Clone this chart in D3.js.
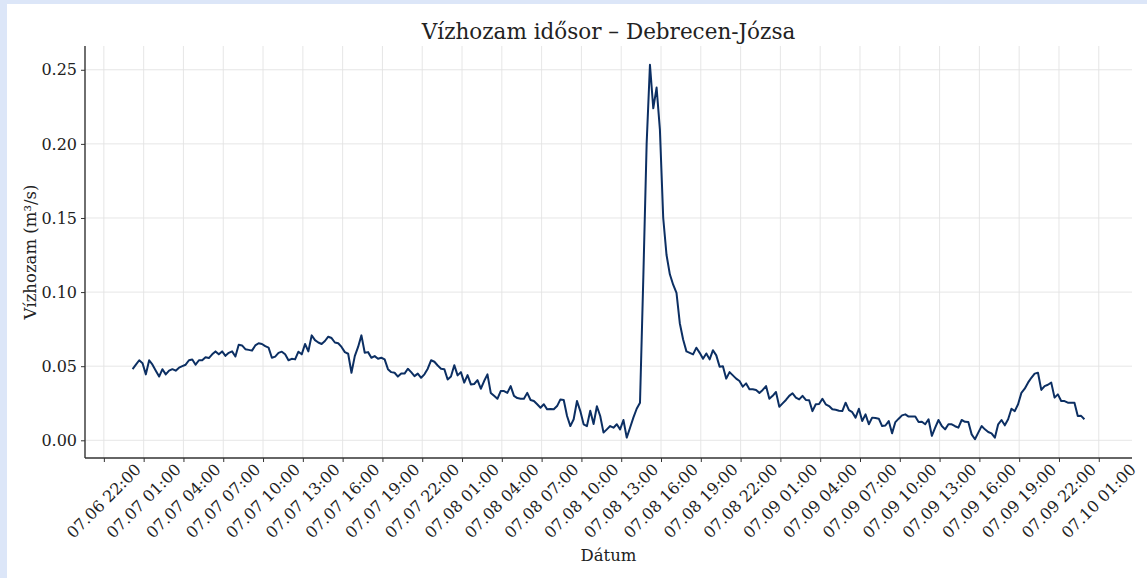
<!DOCTYPE html>
<html lang="hu">

<head>
    <meta charset="UTF-8">
    <title>Vízhozam idősor – Debrecen-Józsa</title>
    <script src="https://cdn.jsdelivr.net/npm/d3@7"></script>
    <style>
        body { margin: 0; background: #dce6f8; }
        svg text { font-family: "DejaVu Serif", serif; fill: #222; }
    </style>
</head>

<body>
    <svg width="1147" height="578"></svg>

    <script>
        // 15-minute readings starting at 07.07 00:10
        const startTime = new Date(Date.UTC(2025, 6, 7, 0, 10));
        const stepMinutes = 15;
        const flow = [
            0.048, 0.051, 0.054, 0.052, 0.0445, 0.054, 0.051, 0.047, 0.043, 0.048,
            0.0445, 0.047, 0.048, 0.047, 0.049, 0.050, 0.051, 0.054, 0.0545, 0.051,
            0.054, 0.054, 0.056, 0.0555, 0.058, 0.060, 0.058, 0.060, 0.057, 0.059,
            0.060, 0.0565, 0.0645, 0.064, 0.0615, 0.061, 0.0605, 0.064, 0.0655, 0.065,
            0.0635, 0.0625, 0.0557, 0.0565, 0.059, 0.0598, 0.058, 0.054, 0.055, 0.0546,
            0.0598, 0.058, 0.065, 0.060, 0.0708, 0.0676, 0.066, 0.065, 0.067, 0.0699,
            0.069, 0.066, 0.0655, 0.063, 0.0595, 0.0584, 0.0456, 0.0568, 0.063, 0.0708,
            0.0591, 0.0595, 0.0557, 0.0568, 0.055, 0.0557, 0.0546, 0.048, 0.046, 0.0456,
            0.043, 0.045, 0.045, 0.0483, 0.046, 0.0433, 0.045, 0.0422, 0.0445, 0.0483,
            0.054, 0.053, 0.0505, 0.0483, 0.048, 0.041, 0.043, 0.0507, 0.0438, 0.046,
            0.0389, 0.044, 0.0377, 0.038, 0.0406, 0.0348, 0.040, 0.0445, 0.032, 0.030,
            0.028, 0.0332, 0.0332, 0.032, 0.0366, 0.030, 0.0285, 0.028, 0.028, 0.032,
            0.0272, 0.0265, 0.0243, 0.022, 0.0243, 0.0209, 0.0212, 0.0209, 0.0231, 0.0276,
            0.0272, 0.0164, 0.0096, 0.0142, 0.0265, 0.0197, 0.0108, 0.0096, 0.020, 0.011,
            0.023, 0.0164, 0.0052, 0.0074, 0.0096, 0.0085, 0.0108, 0.0074, 0.0137, 0.0018,
            0.0085, 0.0153, 0.0213, 0.0254, 0.11, 0.20, 0.2534, 0.224, 0.238, 0.2096,
            0.150, 0.125, 0.112, 0.105, 0.0995, 0.079, 0.068, 0.060, 0.059, 0.058,
            0.0625, 0.059, 0.055, 0.0586, 0.0546, 0.0608, 0.0573, 0.0497, 0.050, 0.0416,
            0.046, 0.0438, 0.0416, 0.040, 0.0362, 0.0384, 0.0344, 0.0344, 0.0339, 0.032,
            0.034, 0.0366, 0.028, 0.030, 0.0326, 0.0227, 0.0249, 0.0272, 0.030, 0.0317,
            0.0288, 0.0276, 0.030, 0.0272, 0.027, 0.0197, 0.0243, 0.0245, 0.028, 0.0243,
            0.0231, 0.0209, 0.0206, 0.020, 0.0197, 0.0254, 0.0204, 0.019, 0.0153, 0.0213,
            0.013, 0.0175, 0.0108, 0.0153, 0.015, 0.0146, 0.0096, 0.010, 0.013, 0.0047,
            0.0123, 0.0146, 0.0168, 0.0175, 0.016, 0.016, 0.016, 0.0123, 0.0125, 0.0108,
            0.0142, 0.003, 0.0085, 0.0137, 0.0096, 0.0074, 0.0108, 0.0108, 0.0095, 0.0085,
            0.0137, 0.0125, 0.0123, 0.004, 0.0007, 0.0052, 0.0096, 0.0074, 0.0056, 0.0047,
            0.0018, 0.0108, 0.0137, 0.0101, 0.0142, 0.0213, 0.0197, 0.0243, 0.032, 0.0348,
            0.0389, 0.0422, 0.045, 0.0456, 0.034, 0.0366, 0.0375, 0.0389, 0.0288, 0.031,
            0.0265, 0.0265, 0.0254, 0.0254, 0.0254, 0.0164, 0.0165, 0.0142
        ];
        const yTicks = [0, 0.05, 0.10, 0.15, 0.20, 0.25];
        // x ticks every 3 hours, 07.06 22:00 .. 07.10 01:00
        const xTickStart = new Date(Date.UTC(2025, 6, 6, 22, 0));
        const xTickEnd = new Date(Date.UTC(2025, 6, 10, 1, 1));

        const plot = { left: 85, right: 1132, top: 46, bottom: 458 };
        const lineColor = "#0c2f63";
        const gridColor = "#e3e3e3";
        const axisColor = "#333";

        const data = flow.map((v, i) => ({ t: d3.utcMinute.offset(startTime, i * stepMinutes), v }));

        const svg = d3.select("svg");
        svg.append("rect")
            .attr("x", 7).attr("y", 4)
            .attr("width", 1140).attr("height", 574)
            .attr("fill", "#fff");

        // matplotlib-like 5% margins
        const tExt = d3.extent(data, d => d.t);
        const tPad = (tExt[1] - tExt[0]) * 0.05;
        const vExt = d3.extent(flow);
        const vPad = (vExt[1] - vExt[0]) * 0.05;

        const x = d3.scaleUtc()
            .domain([new Date(+tExt[0] - tPad), new Date(+tExt[1] + tPad)])
            .range([plot.left, plot.right]);
        const y = d3.scaleLinear()
            .domain([vExt[0] - vPad, vExt[1] + vPad])
            .range([plot.bottom, plot.top]);

        const xTicks = d3.utcHour.range(xTickStart, xTickEnd, 3);
        const fmt = d3.utcFormat("%m.%d %H:%M");

        // grid
        svg.append("g").selectAll("line")
            .data(xTicks).join("line")
            .attr("x1", d => x(d)).attr("x2", d => x(d))
            .attr("y1", plot.top).attr("y2", plot.bottom)
            .attr("stroke", gridColor).attr("stroke-width", 0.9);
        svg.append("g").selectAll("line")
            .data(yTicks).join("line")
            .attr("x1", plot.left).attr("x2", plot.right)
            .attr("y1", d => y(d)).attr("y2", d => y(d))
            .attr("stroke", gridColor).attr("stroke-width", 0.9);

        // data line
        const line = d3.line()
            .x(d => x(d.t))
            .y(d => y(d.v));
        svg.append("path")
            .datum(data)
            .attr("fill", "none")
            .attr("stroke", lineColor)
            .attr("stroke-width", 2)
            .attr("stroke-linejoin", "round")
            .attr("d", line);

        // y axis
        const yAxis = svg.append("g")
            .attr("transform", `translate(${plot.left},0)`)
            .call(d3.axisLeft(y).tickValues(yTicks).tickFormat(d3.format(".2f")).tickSize(4).tickPadding(4));
        yAxis.select(".domain").remove();
        yAxis.selectAll(".tick line").attr("stroke", axisColor).attr("stroke-width", 1);
        yAxis.selectAll(".tick text")
            .style("font-family", "'DejaVu Serif', serif")
            .style("font-size", "16px")
            .attr("fill", "#222");

        // x axis
        const xAxis = svg.append("g")
            .attr("transform", `translate(0,${plot.bottom})`)
            .call(d3.axisBottom(x).tickValues(xTicks).tickFormat("").tickSize(4));
        xAxis.select(".domain").remove();
        xAxis.selectAll(".tick line").attr("stroke", axisColor).attr("stroke-width", 1);

        svg.append("g").selectAll("text")
            .data(xTicks).join("text")
            .attr("transform", d => `translate(${x(d)},${plot.bottom + 43}) rotate(-45)`)
            .attr("text-anchor", "middle")
            .attr("dominant-baseline", "central")
            .style("font-size", "16px")
            .text(d => fmt(d));

        // spines
        svg.append("line")
            .attr("x1", plot.left).attr("x2", plot.left)
            .attr("y1", plot.top).attr("y2", plot.bottom)
            .attr("stroke", axisColor).attr("stroke-width", 1.4);
        svg.append("line")
            .attr("x1", plot.left).attr("x2", plot.right)
            .attr("y1", plot.bottom).attr("y2", plot.bottom)
            .attr("stroke", axisColor).attr("stroke-width", 1.4);

        // titles
        svg.append("text")
            .attr("x", (plot.left + plot.right) / 2)
            .attr("y", 38.5)
            .attr("text-anchor", "middle")
            .style("font-size", "21.5px")
            .text("Vízhozam idősor – Debrecen-Józsa");

        svg.append("text")
            .attr("x", (plot.left + plot.right) / 2)
            .attr("y", 561)
            .attr("text-anchor", "middle")
            .style("font-size", "16.5px")
            .text("Dátum");

        svg.append("text")
            .attr("transform", `translate(30,${(plot.top + plot.bottom) / 2}) rotate(-90)`)
            .attr("text-anchor", "middle")
            .attr("dominant-baseline", "central")
            .style("font-size", "16.5px")
            .text("Vízhozam (m³/s)");
    </script>
</body>

</html>
